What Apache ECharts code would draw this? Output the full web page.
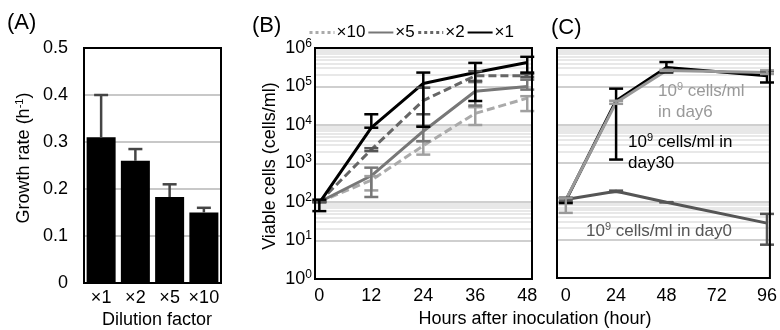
<!DOCTYPE html>
<html><head><meta charset="utf-8">
<script src="https://cdn.jsdelivr.net/npm/echarts@6/dist/echarts.min.js"></script>
<style>html,body{margin:0;padding:0;background:#fff}#c{width:780px;height:330px}</style>
</head><body><div id="c"></div>
<script>
// ---- Panel A data ----
const aCategories = ['×1', '×2', '×5', '×10'];
const aRates = [0.31, 0.26, 0.183, 0.15];
const aRatesHigh = [0.40, 0.285, 0.21, 0.16];
const aTicks = [0, 0.1, 0.2, 0.3, 0.4, 0.5];

// ---- Panel B data (hours, cells/ml) ----
const bHours = [0, 12, 24, 36, 48];
const bX1 = [95, 8500, 120000, 230000, 420000];
const bX1Low = [58, 8500, 9000, 42000, 230000];
const bX1High = [115, 19000, 230000, 410000, 590000];
const bX2 = [100, 2300, 43000, 190000, 190000];
const bX2Low = [100, 2100, 19000, 140000, 175000];
const bX2High = [100, 2500, 93000, 250000, 210000];
const bX5 = [100, 480, 6900, 75000, 100000];
const bX5Low = [100, 135, 3800, 32000, 83000];
const bX5High = [100, 780, 9500, 130000, 150000];
const bX10 = [100, 370, 2900, 20000, 50000];
const bX10Low = [100, 200, 1700, 10000, 23000];
const bX10High = [100, 470, 3800, 29000, 56000];
const bTicks = [0, 12, 24, 36, 48];

// ---- Panel C data ----
const cHours = [0, 24, 48, 96];
const cDay0 = [112, 183, 95, 27];
const cDay0Low = [100, 175, 95, 7.4];
const cDay0High = [125, 190, 95, 47];
const cDay6 = [110, 38000, 260000, 230000];
const cDay6Low = [50, 35000, 250000, 210000];
const cDay6High = [120, 42000, 270000, 260000];
const cDay30 = [105, 42000, 310000, 190000];
const cDay30Low = [90, 1230, 230000, 126000];
const cDay30High = [120, 87000, 430000, 250000];
const cTicks = [0, 24, 48, 72, 96];

const logTicks = [1, 10, 100, 1000, 10000, 100000, 1000000];
const minorDecades = [10, 1000, 100000];
const minorMultipliers = [2, 3, 4, 5, 6, 7, 8, 9];

const FONT = 'Liberation Sans, Arial, sans-serif';
const chart = echarts.init(document.getElementById('c'), null, {renderer: 'canvas'});

function pairs(xs, ys) { return xs.map((x, i) => [x, ys[i]]); }
function triples(xs, lo, hi) { return xs.map((x, i) => [x, lo[i], hi[i]]); }

function errRender(capHalf, color, lw, upperOnly) {
  return function (params, api) {
    const x = api.value(0), lo = api.value(1), hi = api.value(2);
    const p1 = api.coord([x, lo]), p2 = api.coord([x, hi]);
    const style = {stroke: color, lineWidth: lw, fill: null};
    const children = [
      {type: 'line', shape: {x1: p1[0], y1: p1[1], x2: p2[0], y2: p2[1]}, style},
      {type: 'line', shape: {x1: p2[0] - capHalf, y1: p2[1], x2: p2[0] + capHalf, y2: p2[1]}, style}
    ];
    if (!upperOnly) children.push({type: 'line', shape: {x1: p1[0] - capHalf, y1: p1[1], x2: p1[0] + capHalf, y2: p1[1]}, style});
    return {type: 'group', children};
  };
}

function errSeries(xi, yi, data, color, upperOnly) {
  return {
    type: 'custom', xAxisIndex: xi, yAxisIndex: yi, data: data,
    encode: {x: 0, y: [1, 2]}, z: 4, silent: true,
    renderItem: errRender(7, color, 2.5, upperOnly)
  };
}

function lineSeries(name, xi, yi, data, color, dashed) {
  return {
    name: name, type: 'line', xAxisIndex: xi, yAxisIndex: yi, data: data,
    showSymbol: false, symbol: 'none', z: 3,
    lineStyle: {color: color, width: 3, type: dashed ? [8, 4] : 'solid'},
    itemStyle: {color: color}
  };
}

const minorVals = [];
minorDecades.forEach(d => minorMultipliers.forEach(m => minorVals.push(m * d)));

function gridSeries(xi, yi) {
  return [{
    type: 'line', xAxisIndex: xi, yAxisIndex: yi, data: [], z: 1, silent: true,
    markLine: {silent: true, symbol: 'none', animation: false, label: {show: false}, z: 1,
      lineStyle: {color: '#e1e1e1', width: 1.5, type: 'solid'},
      data: minorVals.map(v => ({yAxis: v}))}
  }, {
    type: 'line', xAxisIndex: xi, yAxisIndex: yi, data: [], z: 1, silent: true,
    markLine: {silent: true, symbol: 'none', animation: false, label: {show: false}, z: 1,
      lineStyle: {color: '#cfcfcf', width: 2, type: 'solid'},
      data: logTicks.map(v => ({yAxis: v}))}
  }];
}

const supRich = {
  b: {fontSize: 18, fontFamily: FONT, color: '#000'},
  s: {fontSize: 12, fontFamily: FONT, color: '#000', padding: [0, 0, 9, 0]}
};

const logAxisBase = {
  type: 'log', logBase: 10, min: 1, max: 1000000,
  axisLine: {show: false}, axisTick: {show: false}, splitLine: {show: false}
};

const option = {
  animation: false,
  textStyle: {fontFamily: FONT},
  grid: [
    {left: 84, top: 48, width: 137, height: 235, show: true, borderColor: '#000', borderWidth: 2, z: 10, backgroundColor: 'transparent'},
    {left: 315, top: 48, width: 217, height: 231, show: true, borderColor: '#000', borderWidth: 2, z: 10, backgroundColor: 'transparent'},
    {left: 557, top: 48, width: 216, height: 230, show: true, borderColor: '#000', borderWidth: 2, z: 10, backgroundColor: 'transparent'}
  ],
  legend: {
    left: 303, top: 19, itemWidth: 25, itemHeight: 14, itemGap: 2,
    itemStyle: {opacity: 0},
    textStyle: {fontSize: 17, fontFamily: FONT, color: '#000', padding: [0, 0, 0, -3]},
    data: [
      {name: '×10', lineStyle: {type: 'dotted', width: 3}},
      {name: '×5'},
      {name: '×2', lineStyle: {type: 'dotted', width: 3}},
      {name: '×1'}
    ]
  },
  xAxis: [
    {gridIndex: 0, type: 'category', data: aCategories,
      axisLine: {show: false}, axisTick: {show: false},
      axisLabel: {fontSize: 18, color: '#000', margin: 6, interval: 0}},
    {gridIndex: 1, type: 'value', min: -1, max: 49.1,
      axisLine: {show: false}, axisTick: {show: false}, splitLine: {show: false},
      axisLabel: {fontSize: 18, color: '#000', margin: 8, customValues: bTicks}},
    {gridIndex: 2, type: 'value', min: -4.2, max: 97.4,
      axisLine: {show: false}, axisTick: {show: false}, splitLine: {show: false},
      axisLabel: {fontSize: 18, color: '#000', margin: 9, customValues: cTicks}}
  ],
  yAxis: [
    {gridIndex: 0, type: 'value', min: 0, max: 0.5, interval: 0.1,
      axisLine: {show: false}, axisTick: {show: false},
      splitLine: {show: true, lineStyle: {color: '#c8c8c8', width: 2}},
      axisLabel: {fontSize: 18, color: '#000', margin: 16, formatter: v => String(Math.round(v * 10) / 10)}},
    Object.assign({gridIndex: 1}, logAxisBase, {
      axisLabel: {margin: 3, customValues: logTicks,
        formatter: v => '{b|10}{s|' + Math.round(Math.log10(v)) + '}', rich: supRich}}),
    Object.assign({gridIndex: 2}, logAxisBase, {axisLabel: {show: false}})
  ],
  series: [
    {type: 'bar', xAxisIndex: 0, yAxisIndex: 0, data: aRates, barWidth: 29,
      itemStyle: {color: '#000'}, z: 3},
    errSeries(0, 0, aCategories.map((c, i) => [i, aRates[i], aRatesHigh[i]]), '#454545', true),

    ...gridSeries(1, 1),
    lineSeries('×10', 1, 1, pairs(bHours, bX10), '#aaaaaa', true),
    errSeries(1, 1, triples(bHours, bX10Low, bX10High), '#a0a0a0'),
    lineSeries('×5', 1, 1, pairs(bHours, bX5), '#777777', false),
    errSeries(1, 1, triples(bHours, bX5Low, bX5High), '#777777'),
    lineSeries('×2', 1, 1, pairs(bHours, bX2), '#666666', true),
    errSeries(1, 1, triples(bHours, bX2Low, bX2High), '#555555'),
    lineSeries('×1', 1, 1, pairs(bHours, bX1), '#000000', false),
    errSeries(1, 1, triples(bHours, bX1Low, bX1High), '#000000'),

    ...gridSeries(2, 2),
    lineSeries('day0', 2, 2, pairs(cHours, cDay0), '#555555', false),
    errSeries(2, 2, triples(cHours, cDay0Low, cDay0High), '#555555'),
    lineSeries('day30', 2, 2, pairs(cHours, cDay30), '#000000', false),
    errSeries(2, 2, triples(cHours, cDay30Low, cDay30High), '#000000'),
    lineSeries('day6', 2, 2, pairs(cHours, cDay6), '#999999', false),
    errSeries(2, 2, triples(cHours, cDay6Low, cDay6High), '#999999')
  ],
  graphic: [
    {type: 'text', left: 7, top: 12, style: {text: '(A)', font: '22px ' + FONT, fill: '#000'}},
    {type: 'text', left: 252, top: 15, style: {text: '(B)', font: '22px ' + FONT, fill: '#000'}},
    {type: 'text', left: 551, top: 17, style: {text: '(C)', font: '22px ' + FONT, fill: '#000'}},
    {type: 'text', x: 24, y: 158, rotation: Math.PI / 2,
      style: {text: '{b|Growth rate (h}{s|-1}{b|)}', align: 'center', verticalAlign: 'middle',
        rich: {b: {fontSize: 18, fontFamily: FONT, fill: '#000'}, s: {fontSize: 11, fontFamily: FONT, fill: '#000', padding: [0, 0, 9, 0]}}}},
    {type: 'text', x: 157, y: 320, style: {text: 'Dilution factor', font: '18px ' + FONT, fill: '#000', align: 'center', verticalAlign: 'middle'}},
    {type: 'text', x: 270, y: 166, rotation: Math.PI / 2,
      style: {text: 'Viable cells (cells/ml)', font: '18px ' + FONT, fill: '#000', align: 'center', verticalAlign: 'middle'}},
    {type: 'text', x: 535, y: 319, style: {text: 'Hours after inoculation (hour)', font: '18px ' + FONT, fill: '#000', align: 'center', verticalAlign: 'middle'}},
    {type: 'text', x: 658, y: 102, z: 20,
      style: {text: '{b|10}{s|9}{b| cells/ml}\n{b|in day6}', align: 'left', verticalAlign: 'middle',
        rich: {b: {fontSize: 17, fontFamily: FONT, fill: '#999', lineHeight: 21}, s: {fontSize: 11, fontFamily: FONT, fill: '#999', padding: [0, 0, 9, 0]}}}},
    {type: 'text', x: 628, y: 153, z: 20,
      style: {text: '{b|10}{s|9}{b| cells/ml in}\n{b|day30}', align: 'left', verticalAlign: 'middle',
        rich: {b: {fontSize: 17, fontFamily: FONT, fill: '#000', lineHeight: 21}, s: {fontSize: 11, fontFamily: FONT, fill: '#000', padding: [0, 0, 9, 0]}}}},
    {type: 'text', x: 586, y: 231, z: 20,
      style: {text: '{b|10}{s|9}{b| cells/ml in day0}', align: 'left', verticalAlign: 'middle',
        rich: {b: {fontSize: 17, fontFamily: FONT, fill: '#555', lineHeight: 21}, s: {fontSize: 11, fontFamily: FONT, fill: '#555', padding: [0, 0, 9, 0]}}}}
  ]
};
chart.setOption(option);
</script>
</body></html>
